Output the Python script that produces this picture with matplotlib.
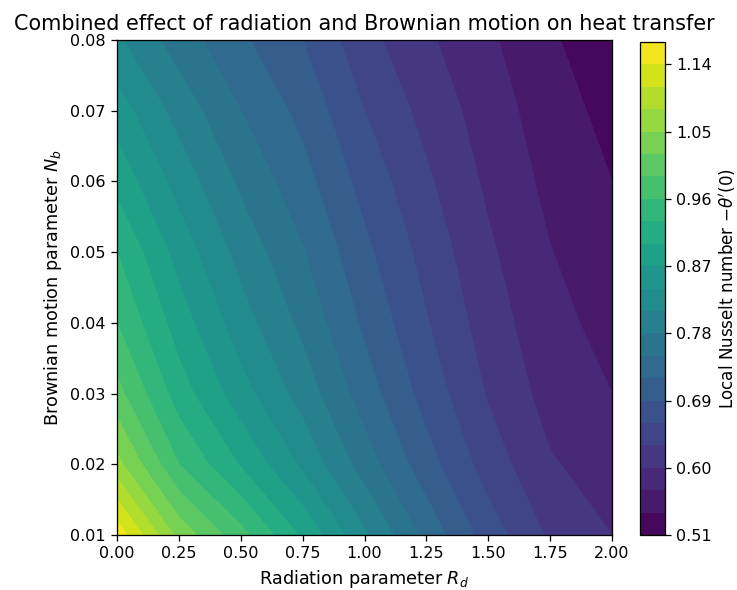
import numpy as np
import matplotlib.pyplot as plt

# radiation parameter Rd (columns) and Brownian motion parameter Nb (rows)
rd = [0.0, 0.25, 0.5, 0.75, 1.0, 1.25, 1.5, 1.75, 2.0]
nb = [0.01, 0.02, 0.03, 0.04, 0.05, 0.06, 0.07, 0.08]

# local Nusselt number -theta'(0), one list per Nb
nu_001 = [1.16, 1.04, 0.97, 0.895, 0.815, 0.74, 0.675, 0.625, 0.60]
nu_002 = [1.06, 0.96, 0.897, 0.834, 0.765, 0.702, 0.646, 0.603, 0.585]
nu_003 = [1.00, 0.915, 0.852, 0.797, 0.735, 0.678, 0.627, 0.588, 0.57]
nu_004 = [0.96, 0.885, 0.823, 0.772, 0.714, 0.662, 0.615, 0.579, 0.56]
nu_005 = [0.93, 0.858, 0.799, 0.752, 0.697, 0.649, 0.605, 0.571, 0.55]
nu_006 = [0.89, 0.828, 0.774, 0.731, 0.679, 0.635, 0.594, 0.562, 0.54]
nu_007 = [0.855, 0.798, 0.75, 0.711, 0.660, 0.620, 0.585, 0.554, 0.53]
nu_008 = [0.815, 0.765, 0.725, 0.69, 0.64, 0.605, 0.575, 0.545, 0.515]

Z = np.array([nu_001, nu_002, nu_003, nu_004, nu_005, nu_006, nu_007, nu_008])
RD, NB = np.meshgrid(rd, nb)

levels = np.linspace(0.51, 1.17, 23)

fig = plt.figure(figsize=(737 / 115, 590 / 115), dpi=115)
ax = fig.add_axes([117 / 737, 55 / 590, 495 / 737, 495 / 590])
cax = fig.add_axes([640 / 737, 55 / 590, 25 / 737, 493 / 590])

cs = ax.contourf(RD, NB, Z, levels=levels, cmap='viridis')
ax.set_xlim(0, 2)
ax.set_ylim(0.01, 0.08)
ax.set_xlabel('Radiation parameter $R_d$', fontsize=11)
ax.set_ylabel('Brownian motion parameter $N_b$', fontsize=11)
ax.set_title('Combined effect of radiation and Brownian motion on heat transfer',
             fontsize=13)

cb = fig.colorbar(cs, cax=cax)
cb.set_label("Local Nusselt number $-\\theta'(0)$", fontsize=10.5, labelpad=3)

fig.savefig('out.png', dpi=115)
